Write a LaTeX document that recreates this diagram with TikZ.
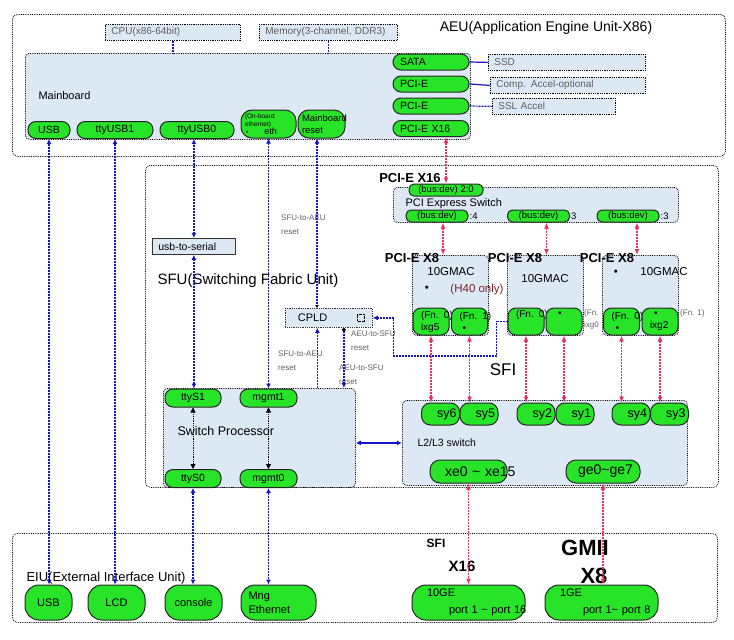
\documentclass[tikz,border=0pt]{standalone}
\usepackage{fontspec}
\setmainfont{Liberation Sans}
\usetikzlibrary{arrows.meta}
\definecolor{pillgreen}{RGB}{40,228,40}
\definecolor{paleblue}{RGB}{221,232,245}
\definecolor{wireblue}{RGB}{20,20,200}
\definecolor{wirered}{RGB}{232,48,98}
\definecolor{notegray}{RGB}{95,95,95}
\definecolor{h40red}{RGB}{130,35,35}

\begin{document}
\begin{tikzpicture}[x=1pt,y=-1pt]
        \tikzset{
            unit/.style={draw, densely dotted, line width=0.8pt, rounded corners=5pt, anchor=north west, inner sep=0pt},
            board/.style={draw, densely dotted, line width=0.8pt, rounded corners=4pt, fill=paleblue, anchor=north west, inner sep=0pt},
            part/.style={draw, densely dotted, line width=0.8pt, fill=paleblue, anchor=north west, minimum height=16pt, inner xsep=6pt, inner ysep=0pt, align=left, text=notegray, font=\fontsize{10}{11}\selectfont},
            pill/.style={draw=black!85, line width=1pt, fill=pillgreen, rounded corners=8pt, minimum height=17pt, inner sep=0pt, font=\fontsize{10.5}{12}\selectfont},
            tall/.style={pill, minimum height=28pt, rounded corners=11pt},
            big/.style={pill, minimum height=35pt, rounded corners=14pt, font=\fontsize{11}{13}\selectfont},
            port/.style={pill, minimum height=16pt, text width=62pt, inner xsep=7pt, align=left},
            bus/.style={pill, minimum height=12pt, rounded corners=5pt, font=\fontsize{9.5}{10}\selectfont},
            fn/.style={pill, minimum width=36pt, minimum height=27pt, rounded corners=8pt, text width=20pt, inner xsep=8pt, align=left, font=\fontsize{10}{12}\selectfont},
            sy/.style={pill, minimum width=38pt, minimum height=22pt, rounded corners=9pt, text width=32pt, inner xsep=3pt, align=right, font=\fontsize{12.5}{14}\selectfont},
            hd/.style={font=\bfseries\fontsize{13}{15}\selectfont},
            txt/.style={font=\fontsize{11.5}{13}\selectfont},
            note/.style={anchor=north west, align=left, inner sep=0pt, text=notegray, font=\fontsize{8}{13.5}\selectfont},
            c1/.style={dash pattern=on 2pt off 1pt, wireblue, line width=1.2pt, {Latex[length=5pt,width=5pt]}-{Latex[length=5pt,width=5pt]}},
            c2/.style={dash pattern=on 2pt off 1pt, wirered, line width=1.6pt, {Latex[length=6pt,width=5pt]}-{Latex[length=6pt,width=5pt]}},
            c3/.style={densely dotted, black, line width=0.8pt, {Triangle[length=5pt,width=5pt]}-{Triangle[length=5pt,width=5pt]}},
            c4/.style={wireblue, line width=1.2pt, {Latex[length=5pt,width=5pt]}-{Latex[length=5pt,width=5pt]}},
            c5/.style={wireblue, line width=1.2pt},
            c6/.style={dash pattern=on 2pt off 1pt, wireblue, line width=1.2pt}
            }

            \useasboundingbox (0,0) rectangle (734,640);

            \node[unit, minimum width=713pt, minimum height=142pt] (aeu) at (12,14) {};
            \node[unit, minimum width=573pt, minimum height=322pt] (sfu) at (145,165) {};
            \node[unit, minimum width=705pt, minimum height=89pt] (eiu) at (12,533) {};

            \node[font=\fontsize{14}{16}\selectfont] (aeut) at (546,28) {AEU(Application Engine Unit-X86)};
            \node[part, text width=123pt] (cpu) at (105,24) {CPU(x86-64bit)};
            \node[part, text width=126pt] (mem) at (259,24) {\mbox{Memory(3-channel, DDR3)}};

            \node[board, minimum width=445pt, minimum height=86pt] (mb) at (25,53) {};
            \node[anchor=west, font=\fontsize{11}{13}\selectfont] (mbt) at (35,96) {Mainboard};
            \node[pill, minimum width=42pt] (usbm) at (49,130) {USB};
            \node[pill, minimum width=76pt] (tty1) at (115,130) {ttyUSB1};
            \node[pill, minimum width=74pt] (tty0) at (197,130) {ttyUSB0};
            \node[tall, minimum width=55pt, text width=47pt, inner xsep=4pt, align=left, font=\fontsize{6.5}{8}\selectfont] (eth) at (268.5,124) {(On-board\\ethernet)\\\hspace*{1pt}•\hspace{16pt}{\fontsize{9}{9}\selectfont eth}};
            \node[tall, minimum width=47pt, text width=39pt, inner xsep=4pt, align=left, font=\fontsize{9.5}{12}\selectfont] (mbrst) at (321.5,124) {Mainboard\\reset};

            \node[port] (sata) at (431,62) {SATA};
            \node[port] (pcie1) at (431,84) {PCI-E};
            \node[port] (pcie2) at (431,106) {PCI-E};
            \node[port] (pcie16) at (431,128.5) {PCI-E X16};
            \node[part, text width=145pt] (ssd) at (488,54) {SSD};
            \node[part, text width=143pt] (comp) at (490,77) {Comp. Accel-optional};
            \node[part, text width=111pt] (ssl) at (492,98) {SSL Accel};

            \draw[c6] (cpu.south) -- (cpu.south |- mb.north);
            \draw[c6] (mem.south) -- (mem.south |- mb.north);
            \draw[c5] (sata.east) -- (ssd.west);
            \draw[c5] (pcie1.east) -- (comp.west);
            \draw[c6] (pcie2.east) -- (ssl.west);

            \node[anchor=west, font=\fontsize{15}{17}\selectfont] (sfut) at (154,281) {SFU(Switching Fabric Unit)};
            \node[part, text width=71pt, text=black, solid, draw=black!80, font=\fontsize{10.5}{12}\selectfont] (u2s) at (152,238) {usb-to-serial};

            \node[hd] (x16) at (410,178) {PCI-E X16};
            \node[board, minimum width=285pt, minimum height=35pt] (psw) at (393,187) {};
            \node[bus, minimum width=74pt] (bus0) at (446,190) {(bus:dev) 2:0};
            \node[anchor=west, font=\fontsize{11}{13}\selectfont] (pswt) at (402,204) {PCI Express Switch};
            \node[bus, minimum width=62pt] (busa) at (437,216) {(bus:dev)};
            \node[bus, minimum width=62pt] (busb) at (538.5,216) {(bus:dev)};
            \node[bus, minimum width=62pt] (busc) at (628,216) {(bus:dev)};
            \node[anchor=west, inner sep=1pt, font=\fontsize{9.5}{10}\selectfont] (busat) at (busa.east) {:4};
            \node[anchor=west, inner sep=1pt, font=\fontsize{9.5}{10}\selectfont] (busbt) at (busb.east) {3};
            \node[anchor=west, inner sep=1pt, font=\fontsize{9.5}{10}\selectfont] (busct) at (busc.east) {:3};

            \node[board, minimum width=76pt, minimum height=80pt] (mac1) at (412,255) {};
            \node[board, minimum width=76pt, minimum height=80pt] (mac2) at (507,255) {};
            \node[board, minimum width=76pt, minimum height=80pt] (mac3) at (602,255) {};
            \node[txt] (mac1t) at (451,272) {10GMAC};
            \node[txt] (mac1d) at (427,289) {•};
            \node[txt, text=h40red] (mac1h) at (477,290) {(H40 only)};
            \node[txt] (mac2t) at (545,279) {10GMAC};
            \node[txt] (mac3d) at (616,273) {•};
            \node[txt] (mac3t) at (664,272) {10GMAC};

            \node[fn] (f10) at (431,321.5) {\mbox{(Fn. 0)}\\ixg5};
            \node[fn] (f11) at (469.5,321.5) {\mbox{(Fn. 1)}\\\hspace*{3pt}•};
            \node[fn] (f20) at (526,321.5) {\mbox{(Fn. 0)}\\\strut};
            \node[fn] (f21) at (564,321.5) {\hspace*{4pt}•\\\strut};
            \node[fn] (f30) at (621.5,321.5) {\mbox{(Fn. 0)}\\\hspace*{4pt}•};
            \node[fn] (f31) at (660,321.5) {\hspace*{4pt}•\\ixg2};
            \node[note, font=\fontsize{8}{12}\selectfont] (f20t) at (584,309) {(Fn.\\ixg0};
            \node[note, font=\fontsize{8}{12}\selectfont] (f31t) at (680,309) {(Fn. 1)};

            \node[hd] (x8a) at (412,258) {PCI-E X8};
            \node[hd] (x8b) at (515,258) {PCI-E X8};
            \node[hd] (x8c) at (607,258) {PCI-E X8};

            \node[board, minimum width=285pt, minimum height=85pt] (l2) at (402,400) {};
            \node[sy] (sy6) at (440.5,414) {sy6};
            \node[sy] (sy5) at (479,414) {sy5};
            \node[sy] (sy2) at (536,414) {sy2};
            \node[sy] (sy1) at (575,414) {sy1};
            \node[sy] (sy4) at (631,414) {sy4};
            \node[sy] (sy3) at (669.5,414) {sy3};
            \node[anchor=west, font=\fontsize{10.5}{12}\selectfont] (l2t) at (414,443) {L2/L3 switch};
            \node[pill, minimum width=77pt, minimum height=23pt, rounded corners=10pt, text width=47pt, inner xsep=15pt, align=left, font=\fontsize{14}{16}\selectfont] (xe) at (468.5,471.5) {\mbox{xe0 \textasciitilde{} xe15}};
            \node[pill, minimum width=74pt, minimum height=23pt, rounded corners=10pt, text width=50pt, inner xsep=12pt, align=left, font=\fontsize{14}{16}\selectfont] (ge) at (603,471.5) {\mbox{ge0\textasciitilde ge7}};
            \node[font=\fontsize{17}{19}\selectfont] (sfi) at (503,370) {SFI};

            \node[part, minimum width=87pt, minimum height=19pt, text width=62pt, inner xsep=12pt, text=black, draw=black!80, font=\fontsize{11}{13}\selectfont] (cpld) at (285,308) {CPLD};
            \node[draw, densely dotted, minimum size=7pt, inner sep=0pt] (cpldsq) at (361,318) {};

            \node[board, minimum width=192pt, minimum height=99pt] (sp) at (163,388) {};
            \node[anchor=west, font=\fontsize{12.5}{14}\selectfont] (spt) at (174,431) {Switch Processor};
            \node[pill, minimum width=56pt, minimum height=18pt] (ttys1) at (193,398) {ttyS1};
            \node[pill, minimum width=57pt, minimum height=18pt] (mgmt1) at (268.5,398) {mgmt1};
            \node[pill, minimum width=56pt, minimum height=18pt] (ttys0) at (193,478.5) {ttyS0};
            \node[pill, minimum width=57pt, minimum height=18pt] (mgmt0) at (268.5,478.5) {mgmt0};

            \node[note] (n1) at (281,215) {SFU-to-AEU\\reset};
            \node[note] (n2) at (278,351) {SFU-to-AEU\\reset};
            \node[note] (n3) at (351,331) {AEU-to-SFU\\reset};
            \node[note] (n4) at (339,365) {AEU-to-SFU\\reset};

            \node[anchor=west, font=\fontsize{13}{15}\selectfont] (eiut) at (23,578) {EIU(External Interface Unit)};
            \node[big, minimum width=47pt] (usbe) at (48.5,602.5) {USB};
            \node[big, minimum width=57pt] (lcd) at (116.5,602.5) {LCD};
            \node[big, minimum width=57pt] (console) at (193.5,602.5) {console};
            \node[big, minimum width=75pt, text width=60pt, inner xsep=7.5pt, align=left, font=\fontsize{11}{14}\selectfont] (mng) at (278.5,602.5) {Mng\\Ethernet};
            \node[big, minimum width=113pt, text width=83pt, inner xsep=15pt, align=left, font=\fontsize{11}{17}\selectfont] (g10) at (468.5,602.5) {10GE\\\hspace*{22pt}\mbox{port 1 \textasciitilde{} port 16}};
            \node[big, minimum width=113pt, text width=83pt, inner xsep=15pt, align=left, font=\fontsize{11}{17}\selectfont] (g1) at (601.5,602.5) {1GE\\\hspace*{23pt}\mbox{port 1\textasciitilde{} port 8}};
            \node[font=\bfseries\fontsize{12}{14}\selectfont] (sfib) at (436,543) {SFI};
            \node[font=\bfseries\fontsize{15}{17}\selectfont] (x16b) at (462,566) {X16};
            \node[font=\bfseries\fontsize{22}{24}\selectfont] (gmii) at (585,548) {GMII};
            \node[font=\bfseries\fontsize{22}{24}\selectfont] (x8) at (594,576) {X8};

            \draw[c1] (usbm.south) -- (usbm.south |- usbe.north);
            \draw[c1] (tty1.south) -- (tty1.south |- lcd.north);
            \draw[c1] (u2s.north) -- (u2s.north |- tty0.south);
            \draw[c1] (u2s.south) -- (u2s.south |- ttys1.north);
            \draw[c1] (eth.south) -- (eth.south |- mgmt1.north);
            \draw[c1] (ttys0.south) -- (ttys0.south |- console.north);
            \draw[c1] (mgmt0.south) -- (mgmt0.south |- mng.north);
            \draw[c3] (ttys1.south) -- (ttys0.north);
            \draw[c3] (mgmt1.south) -- (mgmt0.north);
            \draw[c4] (l2.west -| sp.east) -- (l2.west);
            \draw[c6, {Latex[length=5pt,width=5pt]}-{Latex[length=3pt,width=4pt,black]}] ([xshift=-4.5pt]mbrst.south) -- ([xshift=-4.5pt]mbrst.south |- cpld.north);
            \draw[c6, -{Latex[length=5pt,width=5pt]}] ([xshift=-11.5pt]cpld.south |- sp.north) -- ([xshift=-11.5pt]cpld.south);
            \draw[c6, {Circle[length=4pt,black]}-{Latex[length=5pt,width=5pt]}] ([xshift=15pt]cpld.south) -- ([xshift=15pt]cpld.south |- sp.north);
            \draw[c6, -{Latex[length=5pt,width=5pt]}] (f20.west) -- ++(-11,0) -- ++(0,34.5) -| ([xshift=21pt]cpld.east) |- (cpld.east);

            \draw[c2] (bus0.north) -- (bus0.north |- pcie16.south);
            \draw[c2] ([xshift=6pt]busa.south) -- ([xshift=6pt]busa.south |- mac1.north);
            \draw[c2] ([xshift=8pt]busb.south) -- ([xshift=8pt]busb.south |- mac2.north);
            \draw[c2] ([xshift=9pt]busc.south) -- ([xshift=9pt]busc.south |- mac3.north);
            \draw[c2] (f10.south) -- (f10.south |- sy6.north);
            \draw[c2] (f11.south) -- (f11.south |- sy5.north);
            \draw[c2] (f20.south) -- (f20.south |- sy2.north);
            \draw[c2] (f21.south) -- (f21.south |- sy1.north);
            \draw[c2] (f30.south) -- (f30.south |- sy4.north);
            \draw[c2] (f31.south) -- (f31.south |- sy3.north);
            \draw[c2] (xe.south) -- (xe.south |- g10.north);
            \draw[c2] (ge.south) -- (ge.south |- g1.north);
        \end{tikzpicture}
\end{document}
